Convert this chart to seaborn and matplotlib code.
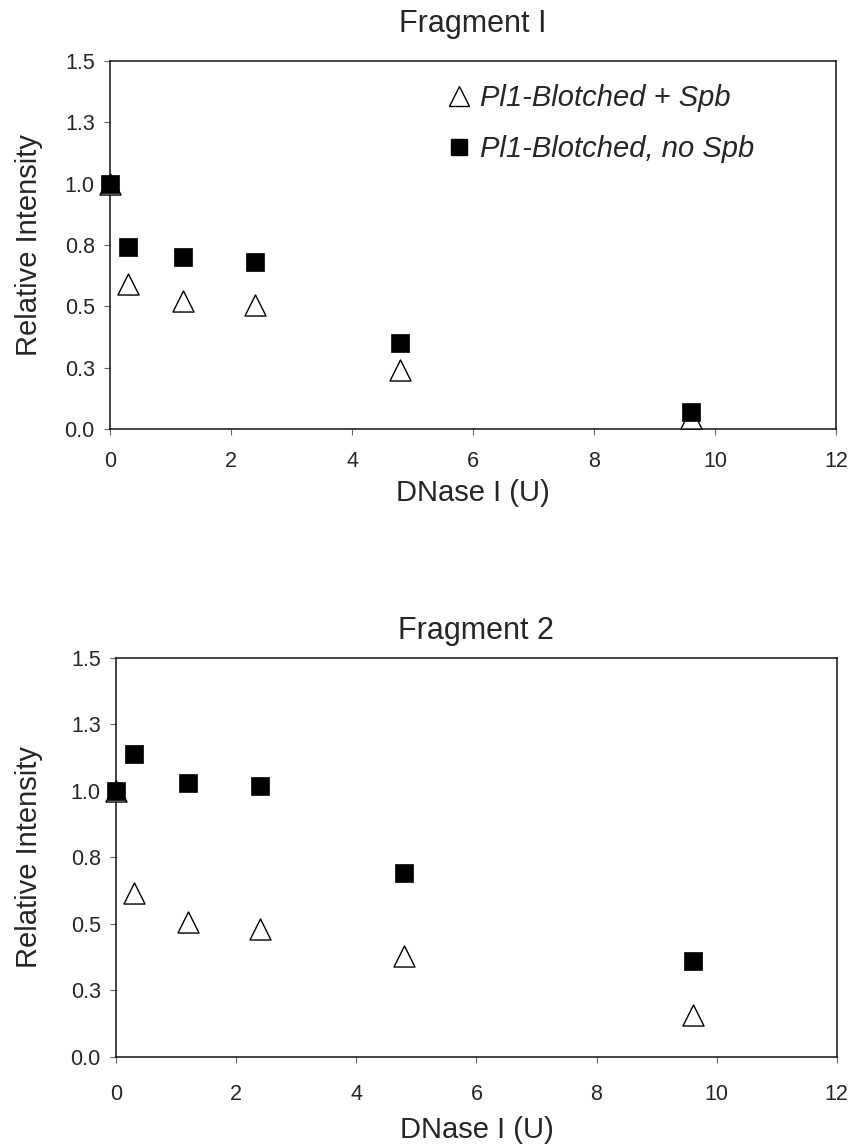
import pandas as pd
import matplotlib
matplotlib.use("Agg")
import matplotlib.pyplot as plt
import seaborn as sns
from matplotlib.lines import Line2D
from matplotlib.ticker import FuncFormatter

sns.set_style("ticks")
plt.rcParams['font.family'] = ['Liberation Sans', 'DejaVu Sans']

dnase = [0, 0.3, 1.2, 2.4, 4.8, 9.6]

# Fragment I
frag1_spb = [1.0, 0.59, 0.52, 0.505, 0.24, 0.045]
frag1_nospb = [1.0, 0.74, 0.70, 0.68, 0.35, 0.07]

# Fragment 2
frag2_spb = [1.0, 0.615, 0.505, 0.48, 0.38, 0.155]
frag2_nospb = [1.0, 1.14, 1.03, 1.02, 0.69, 0.36]

label_spb = "Pl1-Blotched + Spb"
label_nospb = "Pl1-Blotched, no Spb"
yticks = [0, 0.25, 0.5, 0.75, 1.0, 1.25, 1.5]


def one_decimal(v, pos):
    # round half up like the original software (0.25 -> 0.3)
    return f"{int(v * 10 + 0.5 + 1e-9) / 10:.1f}"


def draw_panel(ax, spb, nospb, title, title_pad, xpad, xlab_y, ylab_x):
    df = pd.DataFrame({"dnase": dnase, "spb": spb, "nospb": nospb})
    sns.scatterplot(data=df, x="dnase", y="spb", marker="^", s=230,
                    facecolor="white", edgecolor="black", linewidth=1.0,
                    clip_on=False, zorder=3, ax=ax)
    sns.scatterplot(data=df, x="dnase", y="nospb", marker="s", s=150,
                    color="black", edgecolor="black", linewidth=0.5,
                    clip_on=False, zorder=4, ax=ax)
    ax.set_xlim(0, 12)
    ax.set_ylim(0, 1.5)
    ax.set_xticks(range(0, 13, 2))
    ax.set_yticks(yticks)
    ax.yaxis.set_major_formatter(FuncFormatter(one_decimal))
    ax.tick_params(labelsize=15.5, direction="out", length=4, width=0.8,
                   color="#666666")
    ax.tick_params(axis="x", pad=xpad)
    ax.tick_params(axis="y", pad=7)
    for sp in ax.spines.values():
        sp.set_visible(True)
        sp.set_color("#111111")
        sp.set_linewidth(1.1)
    ax.set_title(title, fontsize=22, pad=title_pad)
    ax.set_xlabel("DNase I (U)", fontsize=21, va="top")
    ax.set_ylabel("Relative Intensity", fontsize=21)
    ax.xaxis.set_label_coords(0.5, xlab_y)
    ax.yaxis.set_label_coords(ylab_x, 0.5)


fig = plt.figure(figsize=(8.53, 11.48), dpi=100)
ax1 = fig.add_axes([0.129, 0.6263, 0.851, 0.3206])
ax2 = fig.add_axes([0.136, 0.0796, 0.845, 0.3472])

draw_panel(ax1, frag1_spb, frag1_nospb, "Fragment I", 21, 12, -0.135, -0.092)
draw_panel(ax2, frag2_spb, frag2_nospb, "Fragment 2", 14, 16, -0.15, -0.101)

handles = [
    Line2D([], [], marker="^", linestyle="none", markersize=14,
           markerfacecolor="white", markeredgecolor="black"),
    Line2D([], [], marker="s", linestyle="none", markersize=12,
           markerfacecolor="black", markeredgecolor="black"),
]
ax1.legend(handles, [label_spb, label_nospb], loc="upper left",
           frameon=False, prop={"style": "italic", "size": 21},
           handlelength=0.9, handletextpad=0.3, labelspacing=0.8,
           borderaxespad=0.0, borderpad=0.0,
           bbox_to_anchor=(0.462, 0.937))

fig.savefig("out.png", dpi=100)
